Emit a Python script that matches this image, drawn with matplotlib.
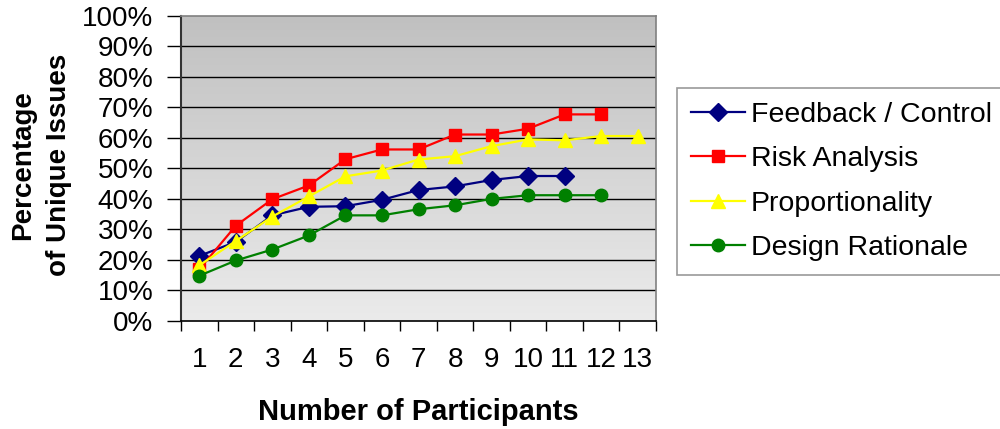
import matplotlib
matplotlib.use("Agg")
import matplotlib.pyplot as plt
import numpy as np
from matplotlib.ticker import FixedLocator, FuncFormatter
from matplotlib.colors import LinearSegmentedColormap

plt.rcParams['font.family'] = ['Liberation Sans', 'DejaVu Sans']

participants = ["1", "2", "3", "4", "5", "6", "7", "8", "9", "10", "11", "12", "13"]
feedback = [21.3, 25.9, 34.6, 37.4, 37.6, 39.7, 42.9, 44.1, 46.2, 47.5, 47.5]
risk = [16.9, 31.2, 39.9, 44.4, 53.0, 56.2, 56.2, 61.1, 61.1, 63.0, 67.7, 67.7]
proportionality = [18.2, 26.2, 34.2, 40.8, 47.4, 49.3, 52.9, 54.0, 57.3, 59.5, 59.2, 60.6, 60.6]
design = [14.8, 19.8, 23.4, 28.0, 34.6, 34.6, 36.6, 37.9, 40.0, 41.2, 41.2, 41.2]
yticks = [0, 10, 20, 30, 40, 50, 60, 70, 80, 90, 100]

fig = plt.figure(figsize=(10, 4.29), dpi=100)
ax = fig.add_axes([0.181, 0.252, 0.475, 0.711])

# gradient background
grad = np.linspace(0, 1, 256).reshape(-1, 1)
cmap = LinearSegmentedColormap.from_list("bg", ["#ebebeb", "#c0c0c0"])
ax.imshow(grad, extent=[0, 1, 0, 1], transform=ax.transAxes, cmap=cmap,
          origin="lower", aspect="auto", zorder=0)

for y in yticks[1:-1]:
    ax.axhline(y, color="black", lw=1.0, zorder=1)

x_all = np.arange(len(participants))
series = [
    ("Feedback / Control", feedback, "#000080", "D", 9),
    ("Risk Analysis", risk, "#ff0000", "s", 8.5),
    ("Proportionality", proportionality, "#ffff00", "^", 10),
    ("Design Rationale", design, "#008000", "o", 9),
]
for label, vals, color, m, ms in series:
    ax.plot(x_all[:len(vals)], vals, color=color, marker=m, markersize=ms,
            lw=1.6, label=label, zorder=3, clip_on=False)

ax.set_xlim(-0.5, len(participants) - 0.5)
ax.set_ylim(0, 100)

ax.set_xticks(x_all)
ax.set_xticklabels(participants)
ax.xaxis.set_minor_locator(FixedLocator(np.arange(-0.5, len(participants), 1.0)))
ax.tick_params(axis="x", which="major", length=0, pad=19, labelsize=20)
ax.tick_params(axis="x", which="minor", length=7, width=1, color="black")

ax.set_yticks(yticks)
ax.yaxis.set_major_formatter(FuncFormatter(lambda v, p: f"{int(v)}%"))
ax.tick_params(axis="y", length=10, width=1, pad=10, labelsize=20, color="black")

for s in ["top", "right"]:
    ax.spines[s].set_color("#808080")
    ax.spines[s].set_linewidth(1.2)
ax.spines["left"].set_color("#333333")
ax.spines["left"].set_linewidth(1.5)
ax.spines["bottom"].set_color("black")
ax.spines["bottom"].set_linewidth(1.2)

ax.set_xlabel("Number of Participants", fontsize=21, fontweight="bold", labelpad=18)
fig.text(0.041, 1 - 165 / 429, "Percentage\nof Unique Issues", rotation=90,
         fontsize=20, fontweight="bold", ha="center", va="center",
         multialignment="center", linespacing=1.45)

leg = fig.legend(loc="upper left", bbox_to_anchor=(0.677, 1 - 88 / 429),
                 fontsize=20.5, frameon=True, fancybox=False, handlelength=1.9,
                 labelspacing=0.64, borderpad=0.5, handletextpad=0.2,
                 borderaxespad=0)
leg.get_frame().set_edgecolor("#808080")
leg.get_frame().set_linewidth(1.2)

fig.savefig("out.png", dpi=100)
